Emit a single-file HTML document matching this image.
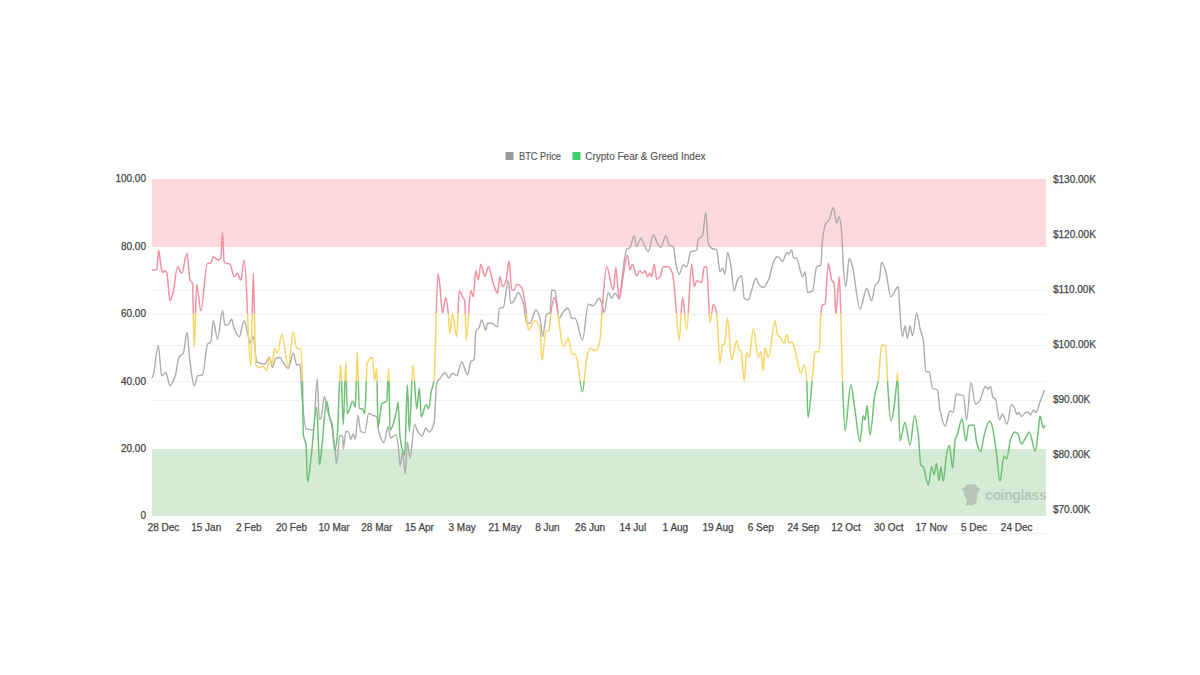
<!DOCTYPE html>
<html><head><meta charset="utf-8"><style>
html,body{margin:0;padding:0;background:#fff;width:1200px;height:675px;overflow:hidden}
svg{display:block}
text{font-family:"Liberation Sans",sans-serif;font-size:10px;fill:#444;stroke:#444;stroke-width:0.25px}
</style></head><body>
<svg width="1200" height="675" viewBox="0 0 1200 675">
<rect x="152" y="179" width="894" height="68" fill="#fdd9dd"/><rect x="152" y="449" width="894" height="67" fill="#d6ebd6"/><line x1="152" x2="1046" y1="290.5" y2="290.5" stroke="#f1f1f1" stroke-width="1"/><line x1="152" x2="1046" y1="314.5" y2="314.5" stroke="#f1f1f1" stroke-width="1"/><line x1="152" x2="1046" y1="345.5" y2="345.5" stroke="#f1f1f1" stroke-width="1"/><line x1="152" x2="1046" y1="381.5" y2="381.5" stroke="#f1f1f1" stroke-width="1"/><line x1="152" x2="1046" y1="400.5" y2="400.5" stroke="#f1f1f1" stroke-width="1"/>
<defs><filter id="soft" x="-5%" y="-5%" width="110%" height="110%"><feGaussianBlur stdDeviation="0.4"/></filter><clipPath id="cr"><rect x="0" y="0" width="1200" height="313.80"/></clipPath><clipPath id="cy"><rect x="0" y="313.80" width="1200" height="67.40"/></clipPath><clipPath id="cg"><rect x="0" y="381.20" width="1200" height="400"/></clipPath></defs><g><path d="M152.00,378.00C152.43,377.00 152.87,376.32 153.30,375.00C154.97,369.92 156.63,345.80 158.30,345.80C159.43,345.80 160.57,375.80 161.70,375.80C163.07,375.80 164.43,372.50 165.80,372.50C167.20,372.50 168.60,385.80 170.00,385.80C171.67,385.80 173.33,381.15 175.00,376.70C176.40,372.96 177.80,358.67 179.20,356.70C180.57,354.77 181.93,355.30 183.30,353.30C184.53,351.49 185.77,332.50 187.00,332.50C188.00,332.50 189.00,354.38 190.00,361.70C191.40,371.95 192.80,385.80 194.20,385.80C195.30,385.80 196.40,376.16 197.50,375.80C199.17,375.26 200.83,375.52 202.50,375.00C204.17,374.48 205.83,346.33 207.50,344.20C208.60,342.79 209.70,343.29 210.80,341.70C211.63,340.50 212.47,320.80 213.30,320.80C214.70,320.80 216.10,339.20 217.50,339.20C219.17,339.20 220.83,310.80 222.50,310.80C223.33,310.80 224.17,325.00 225.00,325.00C226.00,325.00 227.00,325.00 228.00,325.00C229.23,325.00 230.47,319.20 231.70,319.20C232.47,319.20 233.23,326.12 234.00,328.00C235.73,332.25 237.47,336.70 239.20,336.70C240.87,336.70 242.53,320.80 244.20,320.80C245.30,320.80 246.40,328.25 247.50,332.50C248.33,335.72 249.17,343.00 250.00,343.00C251.10,343.00 252.20,336.70 253.30,336.70C254.43,336.70 255.57,360.67 256.70,361.70C257.80,362.70 258.90,363.05 260.00,363.30C261.67,363.68 263.33,364.00 265.00,364.00C266.40,364.00 267.80,357.50 269.20,357.50C270.30,357.50 271.40,367.50 272.50,367.50C273.60,367.50 274.70,358.71 275.80,358.30C277.20,357.78 278.60,357.50 280.00,357.50C281.00,357.50 282.00,360.66 283.00,362.00C284.77,364.37 286.53,368.30 288.30,368.30C289.97,368.30 291.63,353.30 293.30,353.30C294.43,353.30 295.57,365.00 296.70,365.00C297.80,365.00 298.90,364.20 300.00,364.20C300.67,364.20 301.33,389.27 302.00,396.70C303.33,411.56 304.67,428.00 306.00,428.70C306.67,429.05 307.33,429.17 308.00,429.30C309.77,429.64 311.53,430.00 313.30,430.00C314.63,430.00 315.97,378.70 317.30,378.70C317.97,378.70 318.63,419.30 319.30,419.30C319.87,419.30 320.43,418.71 321.00,418.00C322.13,416.58 323.27,396.70 324.40,396.70C325.37,396.70 326.33,406.30 327.30,410.00C328.53,414.72 329.77,416.55 331.00,422.00C332.43,428.33 333.87,440.18 335.30,452.70C335.67,455.90 336.03,464.00 336.40,464.00C337.60,464.00 338.80,435.30 340.00,435.30C340.90,435.30 341.80,435.56 342.70,436.70C342.90,436.95 343.10,449.30 343.30,449.30C344.20,449.30 345.10,431.30 346.00,431.30C346.90,431.30 347.80,431.54 348.70,432.00C349.37,432.34 350.03,439.30 350.70,439.30C351.57,439.30 352.43,434.00 353.30,434.00C353.97,434.00 354.63,439.30 355.30,439.30C356.20,439.30 357.10,415.30 358.00,415.30C358.90,415.30 359.80,430.67 360.70,431.30C362.03,432.24 363.37,432.70 364.70,432.70C366.03,432.70 367.37,413.30 368.70,413.30C370.03,413.30 371.37,414.75 372.70,415.30C374.03,415.85 375.37,415.71 376.70,416.70C377.37,417.20 378.03,428.89 378.70,431.30C380.47,437.70 382.23,442.70 384.00,442.70C385.33,442.70 386.67,426.70 388.00,426.70C388.90,426.70 389.80,438.00 390.70,438.00C392.47,438.00 394.23,434.70 396.00,434.70C397.10,434.70 398.20,446.18 399.30,456.70C399.53,458.93 399.77,466.00 400.00,466.00C400.90,466.00 401.80,452.00 402.70,452.00C403.57,452.00 404.43,474.00 405.30,474.00C405.97,474.00 406.63,442.00 407.30,442.00C408.20,442.00 409.10,458.00 410.00,458.00C411.57,458.00 413.13,424.70 414.70,424.70C415.80,424.70 416.90,430.47 418.00,432.00C419.33,433.86 420.67,436.00 422.00,436.00C423.33,436.00 424.67,428.00 426.00,428.00C427.00,428.00 428.00,432.00 429.00,432.00C430.67,432.00 432.33,428.93 434.00,423.30C434.90,420.26 435.80,385.80 436.70,383.30C437.57,380.90 438.43,380.44 439.30,379.30C441.30,376.68 443.30,372.70 445.30,372.70C446.43,372.70 447.57,378.00 448.70,378.00C449.97,378.00 451.23,373.30 452.50,373.30C453.90,373.30 455.30,375.80 456.70,375.80C458.37,375.80 460.03,361.70 461.70,361.70C463.63,361.70 465.57,375.00 467.50,375.00C468.60,375.00 469.70,363.07 470.80,361.70C471.93,360.29 473.07,361.00 474.20,359.20C474.73,358.35 475.27,333.07 475.80,331.70C476.93,328.78 478.07,329.53 479.20,327.50C480.03,326.01 480.87,320.00 481.70,320.00C483.07,320.00 484.43,330.00 485.80,330.00C486.37,330.00 486.93,323.30 487.50,323.30C488.90,323.30 490.30,323.30 491.70,323.30C493.63,323.30 495.57,326.70 497.50,326.70C498.07,326.70 498.63,308.55 499.20,308.30C500.57,307.70 501.93,308.00 503.30,307.50C504.97,306.89 506.63,280.80 508.30,280.80C509.13,280.80 509.97,303.30 510.80,303.30C511.63,303.30 512.47,302.45 513.30,301.70C514.97,300.20 516.63,292.50 518.30,292.50C519.97,292.50 521.63,297.87 523.30,303.30C524.43,306.99 525.57,323.30 526.70,323.30C527.80,323.30 528.90,323.30 530.00,323.30C531.93,323.30 533.87,310.00 535.80,310.00C537.20,310.00 538.60,313.71 540.00,318.30C540.83,321.03 541.67,336.70 542.50,336.70C543.90,336.70 545.30,315.47 546.70,314.20C547.80,313.20 548.90,313.71 550.00,312.50C550.57,311.88 551.13,290.00 551.70,290.00C552.80,290.00 553.90,290.30 555.00,290.80C556.40,291.43 557.80,318.30 559.20,318.30C560.57,318.30 561.93,313.02 563.30,311.70C564.97,310.08 566.63,308.30 568.30,308.30C569.43,308.30 570.57,318.30 571.70,318.30C572.80,318.30 573.90,318.30 575.00,318.30C577.50,318.30 580.00,340.00 582.50,340.00C584.43,340.00 586.37,304.20 588.30,304.20C589.97,304.20 591.63,305.80 593.30,305.80C595.27,305.80 597.23,298.30 599.20,298.30C600.03,298.30 600.87,301.14 601.70,303.30C602.53,305.46 603.37,312.50 604.20,312.50C605.57,312.50 606.93,292.50 608.30,292.50C609.43,292.50 610.57,298.30 611.70,298.30C612.80,298.30 613.90,293.30 615.00,293.30C616.40,293.30 617.80,298.30 619.20,298.30C620.30,298.30 621.40,281.44 622.50,274.20C623.90,264.98 625.30,250.48 626.70,249.20C627.80,248.19 628.90,248.43 630.00,247.50C631.40,246.32 632.80,235.80 634.20,235.80C635.03,235.80 635.87,246.70 636.70,246.70C638.07,246.70 639.43,238.30 640.80,238.30C641.93,238.30 643.07,242.97 644.20,245.00C645.57,247.45 646.93,251.70 648.30,251.70C649.97,251.70 651.63,235.00 653.30,235.00C654.70,235.00 656.10,241.15 657.50,243.30C658.60,244.99 659.70,247.50 660.80,247.50C662.47,247.50 664.13,235.80 665.80,235.80C666.93,235.80 668.07,244.17 669.20,245.00C670.57,246.01 671.93,245.55 673.30,246.70C674.13,247.40 674.97,259.63 675.80,263.30C676.93,268.29 678.07,274.20 679.20,274.20C680.57,274.20 681.93,265.00 683.30,265.00C684.43,265.00 685.57,266.70 686.70,266.70C688.07,266.70 689.43,252.47 690.80,251.70C692.77,250.59 694.73,251.32 696.70,250.00C697.23,249.64 697.77,240.07 698.30,239.20C699.70,236.91 701.10,237.90 702.50,235.80C703.60,234.15 704.70,212.50 705.80,212.50C706.63,212.50 707.47,241.02 708.30,243.30C709.43,246.40 710.57,247.65 711.70,248.30C713.37,249.26 715.03,248.85 716.70,250.00C717.80,250.76 718.90,271.70 720.00,271.70C720.83,271.70 721.67,268.30 722.50,268.30C723.33,268.30 724.17,274.20 725.00,274.20C725.83,274.20 726.67,252.50 727.50,252.50C728.60,252.50 729.70,259.45 730.80,265.00C731.93,270.72 733.07,290.80 734.20,290.80C735.30,290.80 736.40,281.72 737.50,280.00C738.90,277.81 740.30,275.80 741.70,275.80C742.53,275.80 743.37,297.59 744.20,298.30C745.57,299.47 746.93,300.00 748.30,300.00C749.43,300.00 750.57,293.28 751.70,290.00C753.07,286.04 754.43,278.30 755.80,278.30C756.93,278.30 758.07,283.93 759.20,285.00C760.57,286.29 761.93,287.50 763.30,287.50C765.27,287.50 767.23,282.91 769.20,278.30C770.30,275.72 771.40,267.96 772.50,265.00C773.90,261.24 775.30,256.70 776.70,256.70C777.80,256.70 778.90,257.50 780.00,258.30C780.83,258.91 781.67,261.70 782.50,261.70C783.90,261.70 785.30,252.50 786.70,252.50C787.47,252.50 788.23,254.00 789.00,254.00C789.90,254.00 790.80,250.00 791.70,250.00C792.23,250.00 792.77,257.23 793.30,257.50C794.43,258.07 795.57,257.84 796.70,258.30C798.63,259.09 800.57,276.70 802.50,276.70C803.33,276.70 804.17,271.70 805.00,271.70C805.83,271.70 806.67,292.50 807.50,292.50C809.17,292.50 810.83,291.90 812.50,290.80C813.90,289.88 815.30,267.78 816.70,266.70C818.07,265.65 819.43,266.27 820.80,265.00C821.37,264.47 821.93,244.50 822.50,240.00C823.60,231.26 824.70,225.10 825.80,223.30C826.93,221.45 828.07,221.64 829.20,220.00C830.57,218.02 831.93,207.50 833.30,207.50C834.43,207.50 835.57,223.30 836.70,223.30C837.53,223.30 838.37,216.70 839.20,216.70C840.03,216.70 840.87,224.57 841.70,233.30C842.23,238.88 842.77,260.32 843.30,266.70C844.13,276.66 844.97,286.70 845.80,286.70C846.93,286.70 848.07,258.30 849.20,258.30C850.30,258.30 851.40,263.02 852.50,266.70C855.00,275.07 857.50,309.20 860.00,309.20C862.23,309.20 864.47,288.30 866.70,288.30C868.37,288.30 870.03,300.80 871.70,300.80C872.80,300.80 873.90,288.18 875.00,285.80C876.40,282.77 877.80,283.42 879.20,280.00C880.03,277.96 880.87,262.50 881.70,262.50C883.07,262.50 884.43,267.52 885.80,271.70C887.47,276.80 889.13,296.70 890.80,296.70C893.30,296.70 895.80,286.70 898.30,286.70C898.87,286.70 899.43,306.55 900.00,313.30C900.83,323.22 901.67,336.70 902.50,336.70C903.33,336.70 904.17,325.80 905.00,325.80C905.83,325.80 906.67,338.30 907.50,338.30C908.33,338.30 909.17,325.80 910.00,325.80C910.83,325.80 911.67,335.80 912.50,335.80C913.90,335.80 915.30,313.30 916.70,313.30C917.80,313.30 918.90,323.92 920.00,328.30C921.10,332.68 922.20,333.74 923.30,340.00C924.13,344.74 924.97,371.70 925.80,371.70C926.93,371.70 928.07,371.70 929.20,371.70C930.30,371.70 931.40,387.55 932.50,388.30C934.17,389.43 935.83,388.79 937.50,390.00C938.33,390.61 939.17,406.00 940.00,410.00C941.67,418.00 943.33,426.00 945.00,426.00C946.67,426.00 948.33,411.00 950.00,411.00C951.00,411.00 952.00,412.50 953.00,412.50C954.17,412.50 955.33,394.00 956.50,394.00C957.67,394.00 958.83,394.78 960.00,395.00C961.17,395.22 962.33,395.16 963.50,395.50C964.50,395.79 965.50,420.00 966.50,420.00C968.00,420.00 969.50,382.50 971.00,382.50C972.50,382.50 974.00,404.00 975.50,404.00C976.67,404.00 977.83,403.01 979.00,402.00C981.17,400.12 983.33,386.50 985.50,386.50C986.33,386.50 987.17,389.00 988.00,389.00C988.83,389.00 989.67,386.50 990.50,386.50C991.33,386.50 992.17,396.62 993.00,397.50C993.83,398.38 994.67,398.15 995.50,399.00C996.83,400.35 998.17,420.00 999.50,420.00C1000.50,420.00 1001.50,414.00 1002.50,414.00C1004.00,414.00 1005.50,424.00 1007.00,424.00C1008.50,424.00 1010.00,404.50 1011.50,404.50C1012.50,404.50 1013.50,406.37 1014.50,408.00C1015.33,409.36 1016.17,414.50 1017.00,414.50C1017.67,414.50 1018.33,412.50 1019.00,412.50C1019.83,412.50 1020.67,416.50 1021.50,416.50C1022.67,416.50 1023.83,413.58 1025.00,413.00C1026.00,412.51 1027.00,412.00 1028.00,412.00C1028.83,412.00 1029.67,415.00 1030.50,415.00C1031.50,415.00 1032.50,410.00 1033.50,410.00C1034.33,410.00 1035.17,412.50 1036.00,412.50C1037.33,412.50 1038.67,405.53 1040.00,402.00C1041.50,398.03 1043.00,394.00 1044.50,390.00" fill="none" stroke="#acacac" stroke-width="1.4"/><path d="M152.00,270.00C152.57,270.00 153.13,270.00 153.70,270.00C154.70,270.00 155.70,269.75 156.70,269.20C157.37,268.83 158.03,250.00 158.70,250.00C159.40,250.00 160.10,261.21 160.80,265.00C161.37,268.07 161.93,272.50 162.50,272.50C163.33,272.50 164.17,270.80 165.00,270.80C165.57,270.80 166.13,271.56 166.70,272.50C167.80,274.32 168.90,300.80 170.00,300.80C171.10,300.80 172.20,295.79 173.30,291.70C174.70,286.50 176.10,266.70 177.50,266.70C178.90,266.70 180.30,273.30 181.70,273.30C183.47,273.30 185.23,253.30 187.00,253.30C188.00,253.30 189.00,277.75 190.00,280.00C190.83,281.87 191.67,281.04 192.50,283.30C193.07,284.84 193.63,347.50 194.20,347.50C195.03,347.50 195.87,284.20 196.70,284.20C198.07,284.20 199.43,310.80 200.80,310.80C203.03,310.80 205.27,263.30 207.50,263.30C208.60,263.30 209.70,263.30 210.80,263.30C211.63,263.30 212.47,256.70 213.30,256.70C214.97,256.70 216.63,260.00 218.30,260.00C219.13,260.00 219.97,259.45 220.80,258.30C221.37,257.52 221.93,232.50 222.50,232.50C223.07,232.50 223.63,262.10 224.20,262.50C226.13,263.85 228.07,263.12 230.00,264.20C231.40,264.98 232.80,276.70 234.20,276.70C235.30,276.70 236.40,273.30 237.50,273.30C238.60,273.30 239.70,280.00 240.80,280.00C241.93,280.00 243.07,260.00 244.20,260.00C246.40,260.00 248.60,366.70 250.80,366.70C251.63,366.70 252.47,273.30 253.30,273.30C254.13,273.30 254.97,363.94 255.80,365.00C257.20,366.79 258.60,367.50 260.00,367.50C261.00,367.50 262.00,366.00 263.00,366.00C264.23,366.00 265.47,370.80 266.70,370.80C267.80,370.80 268.90,356.70 270.00,356.70C270.67,356.70 271.33,365.00 272.00,365.00C272.90,365.00 273.80,348.30 274.70,348.30C275.63,348.30 276.57,353.30 277.50,353.30C278.90,353.30 280.30,334.20 281.70,334.20C283.90,334.20 286.10,366.70 288.30,366.70C289.97,366.70 291.63,331.70 293.30,331.70C294.43,331.70 295.57,347.81 296.70,348.30C298.07,348.89 299.43,348.51 300.80,349.20C301.37,349.48 301.93,363.76 302.50,381.70C302.77,390.14 303.03,431.63 303.30,434.00C304.20,442.01 305.10,438.21 306.00,444.70C306.53,448.55 307.07,482.00 307.60,482.00C308.83,482.00 310.07,464.80 311.30,455.00C313.10,440.70 314.90,407.30 316.70,407.30C317.37,407.30 318.03,437.71 318.70,450.00C319.00,455.53 319.30,465.00 319.60,465.00C320.40,465.00 321.20,451.99 322.00,445.00C323.57,431.31 325.13,401.30 326.70,401.30C327.80,401.30 328.90,416.20 330.00,419.30C330.67,421.18 331.33,421.15 332.00,423.30C332.90,426.20 333.80,450.00 334.70,450.00C335.47,450.00 336.23,445.26 337.00,440.00C338.20,431.76 339.40,365.00 340.60,365.00C341.50,365.00 342.40,424.70 343.30,424.70C344.13,424.70 344.97,361.70 345.80,361.70C346.30,361.70 346.80,414.00 347.30,414.00C349.10,414.00 350.90,401.30 352.70,401.30C353.57,401.30 354.43,407.30 355.30,407.30C355.97,407.30 356.63,352.00 357.30,352.00C357.97,352.00 358.63,408.70 359.30,408.70C360.43,408.70 361.57,408.70 362.70,408.70C363.37,408.70 364.03,414.00 364.70,414.00C365.57,414.00 366.43,364.53 367.30,362.70C369.03,359.03 370.77,357.50 372.50,357.50C373.20,357.50 373.90,380.30 374.60,380.30C375.30,380.30 376.00,367.90 376.70,367.90C377.13,367.90 377.57,427.30 378.00,427.30C379.33,427.30 380.67,404.38 382.00,403.30C383.57,402.03 385.13,402.79 386.70,401.30C387.37,400.67 388.03,367.90 388.70,367.90C389.13,367.90 389.57,430.00 390.00,430.00C392.23,430.00 394.47,419.74 396.70,410.00C397.13,408.11 397.57,402.00 398.00,402.00C398.67,402.00 399.33,432.07 400.00,436.70C401.57,447.59 403.13,455.00 404.70,455.00C405.57,455.00 406.43,384.70 407.30,384.70C407.97,384.70 408.63,431.30 409.30,431.30C410.53,431.30 411.77,365.00 413.00,365.00C414.23,365.00 415.47,408.70 416.70,408.70C417.57,408.70 418.43,388.00 419.30,388.00C419.97,388.00 420.63,416.70 421.30,416.70C422.87,416.70 424.43,404.70 426.00,404.70C426.90,404.70 427.80,408.70 428.70,408.70C429.57,408.70 430.43,395.60 431.30,391.30C432.20,386.84 433.10,386.61 434.00,380.70C435.30,372.16 436.60,273.50 437.90,273.50C438.60,273.50 439.30,281.21 440.00,286.70C440.83,293.24 441.67,313.30 442.50,313.30C443.60,313.30 444.70,297.50 445.80,297.50C446.63,297.50 447.47,305.72 448.30,313.30C448.77,317.54 449.23,333.30 449.70,333.30C450.63,333.30 451.57,314.20 452.50,314.20C453.90,314.20 455.30,336.70 456.70,336.70C457.53,336.70 458.37,290.80 459.20,290.80C460.30,290.80 461.40,294.69 462.50,296.70C463.23,298.04 463.97,298.14 464.70,300.80C465.23,302.73 465.77,340.00 466.30,340.00C467.80,340.00 469.30,290.80 470.80,290.80C471.63,290.80 472.47,296.70 473.30,296.70C474.13,296.70 474.97,270.80 475.80,270.80C476.63,270.80 477.47,280.00 478.30,280.00C479.13,280.00 479.97,264.20 480.80,264.20C482.20,264.20 483.60,276.70 485.00,276.70C486.10,276.70 487.20,266.70 488.30,266.70C489.97,266.70 491.63,278.70 493.30,283.30C494.70,287.16 496.10,293.30 497.50,293.30C498.33,293.30 499.17,276.70 500.00,276.70C500.83,276.70 501.67,286.70 502.50,286.70C503.60,286.70 504.70,284.37 505.80,281.70C506.93,278.95 508.07,260.80 509.20,260.80C510.03,260.80 510.87,290.00 511.70,290.00C512.53,290.00 513.37,290.00 514.20,290.00C515.03,290.00 515.87,284.20 516.70,284.20C518.37,284.20 520.03,285.54 521.70,287.50C523.37,289.46 525.03,302.90 526.70,315.00C527.23,318.87 527.77,330.00 528.30,330.00C530.53,330.00 532.77,320.80 535.00,320.80C536.67,320.80 538.33,323.12 540.00,328.30C540.67,330.37 541.33,360.00 542.00,360.00C543.27,360.00 544.53,332.87 545.80,331.70C546.93,330.65 548.07,331.21 549.20,330.00C549.73,329.43 550.27,316.90 550.80,313.30C551.93,305.66 553.07,297.50 554.20,297.50C555.03,297.50 555.87,301.45 556.70,305.00C557.53,308.55 558.37,317.90 559.20,323.30C560.57,332.15 561.93,346.70 563.30,346.70C564.97,346.70 566.63,338.30 568.30,338.30C569.43,338.30 570.57,352.42 571.70,353.30C573.07,354.36 574.43,354.01 575.80,355.00C578.03,356.61 580.27,391.70 582.50,391.70C583.90,391.70 585.30,364.34 586.70,358.30C587.80,353.56 588.90,348.30 590.00,348.30C591.93,348.30 593.87,350.80 595.80,350.80C597.20,350.80 598.60,347.02 600.00,340.00C600.27,338.66 600.53,333.57 600.80,330.00C601.37,322.42 601.93,311.60 602.50,305.00C603.90,288.70 605.30,266.70 606.70,266.70C608.90,266.70 611.10,290.00 613.30,290.00C614.13,290.00 614.97,267.50 615.80,267.50C616.93,267.50 618.07,299.20 619.20,299.20C620.57,299.20 621.93,282.21 623.30,275.00C624.70,267.62 626.10,255.00 627.50,255.00C628.33,255.00 629.17,270.00 630.00,270.00C630.83,270.00 631.67,264.20 632.50,264.20C633.90,264.20 635.30,275.80 636.70,275.80C637.80,275.80 638.90,270.80 640.00,270.80C640.83,270.80 641.67,273.30 642.50,273.30C643.33,273.30 644.17,270.80 645.00,270.80C645.83,270.80 646.67,276.70 647.50,276.70C648.33,276.70 649.17,273.30 650.00,273.30C650.57,273.30 651.13,276.70 651.70,276.70C652.53,276.70 653.37,264.20 654.20,264.20C655.03,264.20 655.87,279.20 656.70,279.20C657.80,279.20 658.90,278.03 660.00,276.70C661.10,275.37 662.20,266.70 663.30,266.70C664.97,266.70 666.63,266.70 668.30,266.70C669.70,266.70 671.10,269.34 672.50,273.30C673.33,275.66 674.17,287.08 675.00,295.00C676.40,308.31 677.80,340.00 679.20,340.00C680.30,340.00 681.40,297.50 682.50,297.50C683.90,297.50 685.30,330.00 686.70,330.00C688.37,330.00 690.03,264.20 691.70,264.20C692.53,264.20 693.37,286.70 694.20,286.70C695.03,286.70 695.87,280.80 696.70,280.80C698.37,280.80 700.03,282.50 701.70,282.50C702.53,282.50 703.37,266.70 704.20,266.70C705.03,266.70 705.87,266.70 706.70,266.70C707.80,266.70 708.90,323.30 710.00,323.30C711.10,323.30 712.20,304.20 713.30,304.20C714.43,304.20 715.57,308.13 716.70,313.30C717.80,318.32 718.90,363.30 720.00,363.30C720.83,363.30 721.67,345.76 722.50,345.00C723.17,344.40 723.83,344.59 724.50,344.00C725.50,343.11 726.50,318.30 727.50,318.30C728.90,318.30 730.30,360.00 731.70,360.00C733.37,360.00 735.03,340.80 736.70,340.80C737.53,340.80 738.37,349.23 739.20,350.00C739.80,350.56 740.40,350.42 741.00,351.00C742.07,352.03 743.13,380.80 744.20,380.80C745.03,380.80 745.87,352.50 746.70,352.50C747.53,352.50 748.37,357.50 749.20,357.50C750.57,357.50 751.93,328.30 753.30,328.30C754.97,328.30 756.63,357.50 758.30,357.50C759.13,357.50 759.97,351.70 760.80,351.70C761.63,351.70 762.47,370.80 763.30,370.80C763.87,370.80 764.43,347.50 765.00,347.50C766.10,347.50 767.20,357.50 768.30,357.50C770.53,357.50 772.77,320.80 775.00,320.80C775.83,320.80 776.67,333.83 777.50,335.00C778.33,336.17 779.17,336.15 780.00,337.00C781.40,338.42 782.80,343.30 784.20,343.30C785.03,343.30 785.87,334.20 786.70,334.20C787.53,334.20 788.37,343.30 789.20,343.30C790.03,343.30 790.87,341.70 791.70,341.70C792.80,341.70 793.90,346.35 795.00,350.00C795.83,352.76 796.67,358.33 797.50,361.70C798.60,366.15 799.70,373.30 800.80,373.30C801.93,373.30 803.07,365.00 804.20,365.00C805.03,365.00 805.87,371.11 806.70,380.00C807.13,384.62 807.57,417.50 808.00,417.50C809.50,417.50 811.00,391.03 812.50,376.70C813.33,368.74 814.17,351.70 815.00,351.70C816.40,351.70 817.80,351.70 819.20,351.70C819.73,351.70 820.27,320.02 820.80,315.00C821.37,309.66 821.93,305.36 822.50,305.00C823.33,304.46 824.17,304.70 825.00,304.20C826.10,303.54 827.20,263.30 828.30,263.30C829.43,263.30 830.57,277.71 831.70,280.00C832.53,281.68 833.37,281.10 834.20,283.30C834.73,284.71 835.27,315.00 835.80,315.00C836.93,315.00 838.07,276.70 839.20,276.70C839.73,276.70 840.27,297.79 840.80,313.30C841.37,329.78 841.93,366.41 842.50,381.70C843.33,404.19 844.17,430.80 845.00,430.80C846.93,430.80 848.87,385.00 850.80,385.00C852.20,385.00 853.60,401.41 855.00,410.00C856.67,420.22 858.33,441.70 860.00,441.70C861.10,441.70 862.20,415.80 863.30,415.80C863.87,415.80 864.43,420.00 865.00,420.00C865.67,420.00 866.33,405.80 867.00,405.80C868.00,405.80 869.00,435.00 870.00,435.00C871.67,435.00 873.33,401.77 875.00,393.30C876.10,387.71 877.20,386.91 878.30,380.80C879.43,374.50 880.57,345.00 881.70,345.00C883.07,345.00 884.43,345.19 885.80,345.80C886.37,346.05 886.93,371.91 887.50,380.80C888.60,398.06 889.70,420.80 890.80,420.80C892.77,420.80 894.73,402.01 896.70,383.30C896.97,380.76 897.23,372.50 897.50,372.50C898.33,372.50 899.17,440.80 900.00,440.80C901.67,440.80 903.33,422.50 905.00,422.50C906.67,422.50 908.33,445.00 910.00,445.00C911.57,445.00 913.13,415.80 914.70,415.80C915.90,415.80 917.10,425.93 918.30,435.00C919.13,441.30 919.97,463.93 920.80,465.00C921.63,466.07 922.47,465.81 923.30,466.70C924.97,468.48 926.63,485.00 928.30,485.00C929.43,485.00 930.57,466.70 931.70,466.70C932.53,466.70 933.37,475.00 934.20,475.00C934.90,475.00 935.60,463.30 936.30,463.30C937.27,463.30 938.23,480.80 939.20,480.80C939.73,480.80 940.27,466.70 940.80,466.70C941.63,466.70 942.47,481.30 943.30,481.30C944.43,481.30 945.57,458.28 946.70,453.30C947.57,449.49 948.43,445.30 949.30,445.30C950.43,445.30 951.57,468.00 952.70,468.00C953.57,468.00 954.43,441.56 955.30,438.70C955.97,436.50 956.63,436.32 957.30,434.70C958.87,430.89 960.43,418.70 962.00,418.70C963.33,418.70 964.67,441.30 966.00,441.30C966.90,441.30 967.80,425.30 968.70,425.30C970.47,425.30 972.23,425.30 974.00,425.30C974.90,425.30 975.80,439.70 976.70,442.70C978.03,447.14 979.37,451.30 980.70,451.30C981.80,451.30 982.90,439.89 984.00,436.00C985.77,429.75 987.53,421.30 989.30,421.30C989.97,421.30 990.63,422.27 991.30,423.30C992.87,425.73 994.43,439.00 996.00,449.30C997.33,458.06 998.67,481.30 1000.00,481.30C1001.33,481.30 1002.67,456.00 1004.00,456.00C1004.90,456.00 1005.80,458.70 1006.70,458.70C1008.03,458.70 1009.37,442.05 1010.70,438.70C1012.03,435.35 1013.37,432.00 1014.70,432.00C1015.80,432.00 1016.90,432.89 1018.00,434.00C1019.10,435.11 1020.20,444.00 1021.30,444.00C1023.10,444.00 1024.90,438.72 1026.70,436.00C1027.57,434.69 1028.43,432.00 1029.30,432.00C1031.30,432.00 1033.30,451.30 1035.30,451.30C1036.20,451.30 1037.10,440.12 1038.00,433.30C1038.67,428.25 1039.33,416.00 1040.00,416.00C1041.10,416.00 1042.20,428.00 1043.30,428.00C1043.97,428.00 1044.63,426.20 1045.30,425.30" fill="none" stroke="#f2919f" stroke-width="1.5" clip-path="url(#cr)"/><path d="M152.00,270.00C152.57,270.00 153.13,270.00 153.70,270.00C154.70,270.00 155.70,269.75 156.70,269.20C157.37,268.83 158.03,250.00 158.70,250.00C159.40,250.00 160.10,261.21 160.80,265.00C161.37,268.07 161.93,272.50 162.50,272.50C163.33,272.50 164.17,270.80 165.00,270.80C165.57,270.80 166.13,271.56 166.70,272.50C167.80,274.32 168.90,300.80 170.00,300.80C171.10,300.80 172.20,295.79 173.30,291.70C174.70,286.50 176.10,266.70 177.50,266.70C178.90,266.70 180.30,273.30 181.70,273.30C183.47,273.30 185.23,253.30 187.00,253.30C188.00,253.30 189.00,277.75 190.00,280.00C190.83,281.87 191.67,281.04 192.50,283.30C193.07,284.84 193.63,347.50 194.20,347.50C195.03,347.50 195.87,284.20 196.70,284.20C198.07,284.20 199.43,310.80 200.80,310.80C203.03,310.80 205.27,263.30 207.50,263.30C208.60,263.30 209.70,263.30 210.80,263.30C211.63,263.30 212.47,256.70 213.30,256.70C214.97,256.70 216.63,260.00 218.30,260.00C219.13,260.00 219.97,259.45 220.80,258.30C221.37,257.52 221.93,232.50 222.50,232.50C223.07,232.50 223.63,262.10 224.20,262.50C226.13,263.85 228.07,263.12 230.00,264.20C231.40,264.98 232.80,276.70 234.20,276.70C235.30,276.70 236.40,273.30 237.50,273.30C238.60,273.30 239.70,280.00 240.80,280.00C241.93,280.00 243.07,260.00 244.20,260.00C246.40,260.00 248.60,366.70 250.80,366.70C251.63,366.70 252.47,273.30 253.30,273.30C254.13,273.30 254.97,363.94 255.80,365.00C257.20,366.79 258.60,367.50 260.00,367.50C261.00,367.50 262.00,366.00 263.00,366.00C264.23,366.00 265.47,370.80 266.70,370.80C267.80,370.80 268.90,356.70 270.00,356.70C270.67,356.70 271.33,365.00 272.00,365.00C272.90,365.00 273.80,348.30 274.70,348.30C275.63,348.30 276.57,353.30 277.50,353.30C278.90,353.30 280.30,334.20 281.70,334.20C283.90,334.20 286.10,366.70 288.30,366.70C289.97,366.70 291.63,331.70 293.30,331.70C294.43,331.70 295.57,347.81 296.70,348.30C298.07,348.89 299.43,348.51 300.80,349.20C301.37,349.48 301.93,363.76 302.50,381.70C302.77,390.14 303.03,431.63 303.30,434.00C304.20,442.01 305.10,438.21 306.00,444.70C306.53,448.55 307.07,482.00 307.60,482.00C308.83,482.00 310.07,464.80 311.30,455.00C313.10,440.70 314.90,407.30 316.70,407.30C317.37,407.30 318.03,437.71 318.70,450.00C319.00,455.53 319.30,465.00 319.60,465.00C320.40,465.00 321.20,451.99 322.00,445.00C323.57,431.31 325.13,401.30 326.70,401.30C327.80,401.30 328.90,416.20 330.00,419.30C330.67,421.18 331.33,421.15 332.00,423.30C332.90,426.20 333.80,450.00 334.70,450.00C335.47,450.00 336.23,445.26 337.00,440.00C338.20,431.76 339.40,365.00 340.60,365.00C341.50,365.00 342.40,424.70 343.30,424.70C344.13,424.70 344.97,361.70 345.80,361.70C346.30,361.70 346.80,414.00 347.30,414.00C349.10,414.00 350.90,401.30 352.70,401.30C353.57,401.30 354.43,407.30 355.30,407.30C355.97,407.30 356.63,352.00 357.30,352.00C357.97,352.00 358.63,408.70 359.30,408.70C360.43,408.70 361.57,408.70 362.70,408.70C363.37,408.70 364.03,414.00 364.70,414.00C365.57,414.00 366.43,364.53 367.30,362.70C369.03,359.03 370.77,357.50 372.50,357.50C373.20,357.50 373.90,380.30 374.60,380.30C375.30,380.30 376.00,367.90 376.70,367.90C377.13,367.90 377.57,427.30 378.00,427.30C379.33,427.30 380.67,404.38 382.00,403.30C383.57,402.03 385.13,402.79 386.70,401.30C387.37,400.67 388.03,367.90 388.70,367.90C389.13,367.90 389.57,430.00 390.00,430.00C392.23,430.00 394.47,419.74 396.70,410.00C397.13,408.11 397.57,402.00 398.00,402.00C398.67,402.00 399.33,432.07 400.00,436.70C401.57,447.59 403.13,455.00 404.70,455.00C405.57,455.00 406.43,384.70 407.30,384.70C407.97,384.70 408.63,431.30 409.30,431.30C410.53,431.30 411.77,365.00 413.00,365.00C414.23,365.00 415.47,408.70 416.70,408.70C417.57,408.70 418.43,388.00 419.30,388.00C419.97,388.00 420.63,416.70 421.30,416.70C422.87,416.70 424.43,404.70 426.00,404.70C426.90,404.70 427.80,408.70 428.70,408.70C429.57,408.70 430.43,395.60 431.30,391.30C432.20,386.84 433.10,386.61 434.00,380.70C435.30,372.16 436.60,273.50 437.90,273.50C438.60,273.50 439.30,281.21 440.00,286.70C440.83,293.24 441.67,313.30 442.50,313.30C443.60,313.30 444.70,297.50 445.80,297.50C446.63,297.50 447.47,305.72 448.30,313.30C448.77,317.54 449.23,333.30 449.70,333.30C450.63,333.30 451.57,314.20 452.50,314.20C453.90,314.20 455.30,336.70 456.70,336.70C457.53,336.70 458.37,290.80 459.20,290.80C460.30,290.80 461.40,294.69 462.50,296.70C463.23,298.04 463.97,298.14 464.70,300.80C465.23,302.73 465.77,340.00 466.30,340.00C467.80,340.00 469.30,290.80 470.80,290.80C471.63,290.80 472.47,296.70 473.30,296.70C474.13,296.70 474.97,270.80 475.80,270.80C476.63,270.80 477.47,280.00 478.30,280.00C479.13,280.00 479.97,264.20 480.80,264.20C482.20,264.20 483.60,276.70 485.00,276.70C486.10,276.70 487.20,266.70 488.30,266.70C489.97,266.70 491.63,278.70 493.30,283.30C494.70,287.16 496.10,293.30 497.50,293.30C498.33,293.30 499.17,276.70 500.00,276.70C500.83,276.70 501.67,286.70 502.50,286.70C503.60,286.70 504.70,284.37 505.80,281.70C506.93,278.95 508.07,260.80 509.20,260.80C510.03,260.80 510.87,290.00 511.70,290.00C512.53,290.00 513.37,290.00 514.20,290.00C515.03,290.00 515.87,284.20 516.70,284.20C518.37,284.20 520.03,285.54 521.70,287.50C523.37,289.46 525.03,302.90 526.70,315.00C527.23,318.87 527.77,330.00 528.30,330.00C530.53,330.00 532.77,320.80 535.00,320.80C536.67,320.80 538.33,323.12 540.00,328.30C540.67,330.37 541.33,360.00 542.00,360.00C543.27,360.00 544.53,332.87 545.80,331.70C546.93,330.65 548.07,331.21 549.20,330.00C549.73,329.43 550.27,316.90 550.80,313.30C551.93,305.66 553.07,297.50 554.20,297.50C555.03,297.50 555.87,301.45 556.70,305.00C557.53,308.55 558.37,317.90 559.20,323.30C560.57,332.15 561.93,346.70 563.30,346.70C564.97,346.70 566.63,338.30 568.30,338.30C569.43,338.30 570.57,352.42 571.70,353.30C573.07,354.36 574.43,354.01 575.80,355.00C578.03,356.61 580.27,391.70 582.50,391.70C583.90,391.70 585.30,364.34 586.70,358.30C587.80,353.56 588.90,348.30 590.00,348.30C591.93,348.30 593.87,350.80 595.80,350.80C597.20,350.80 598.60,347.02 600.00,340.00C600.27,338.66 600.53,333.57 600.80,330.00C601.37,322.42 601.93,311.60 602.50,305.00C603.90,288.70 605.30,266.70 606.70,266.70C608.90,266.70 611.10,290.00 613.30,290.00C614.13,290.00 614.97,267.50 615.80,267.50C616.93,267.50 618.07,299.20 619.20,299.20C620.57,299.20 621.93,282.21 623.30,275.00C624.70,267.62 626.10,255.00 627.50,255.00C628.33,255.00 629.17,270.00 630.00,270.00C630.83,270.00 631.67,264.20 632.50,264.20C633.90,264.20 635.30,275.80 636.70,275.80C637.80,275.80 638.90,270.80 640.00,270.80C640.83,270.80 641.67,273.30 642.50,273.30C643.33,273.30 644.17,270.80 645.00,270.80C645.83,270.80 646.67,276.70 647.50,276.70C648.33,276.70 649.17,273.30 650.00,273.30C650.57,273.30 651.13,276.70 651.70,276.70C652.53,276.70 653.37,264.20 654.20,264.20C655.03,264.20 655.87,279.20 656.70,279.20C657.80,279.20 658.90,278.03 660.00,276.70C661.10,275.37 662.20,266.70 663.30,266.70C664.97,266.70 666.63,266.70 668.30,266.70C669.70,266.70 671.10,269.34 672.50,273.30C673.33,275.66 674.17,287.08 675.00,295.00C676.40,308.31 677.80,340.00 679.20,340.00C680.30,340.00 681.40,297.50 682.50,297.50C683.90,297.50 685.30,330.00 686.70,330.00C688.37,330.00 690.03,264.20 691.70,264.20C692.53,264.20 693.37,286.70 694.20,286.70C695.03,286.70 695.87,280.80 696.70,280.80C698.37,280.80 700.03,282.50 701.70,282.50C702.53,282.50 703.37,266.70 704.20,266.70C705.03,266.70 705.87,266.70 706.70,266.70C707.80,266.70 708.90,323.30 710.00,323.30C711.10,323.30 712.20,304.20 713.30,304.20C714.43,304.20 715.57,308.13 716.70,313.30C717.80,318.32 718.90,363.30 720.00,363.30C720.83,363.30 721.67,345.76 722.50,345.00C723.17,344.40 723.83,344.59 724.50,344.00C725.50,343.11 726.50,318.30 727.50,318.30C728.90,318.30 730.30,360.00 731.70,360.00C733.37,360.00 735.03,340.80 736.70,340.80C737.53,340.80 738.37,349.23 739.20,350.00C739.80,350.56 740.40,350.42 741.00,351.00C742.07,352.03 743.13,380.80 744.20,380.80C745.03,380.80 745.87,352.50 746.70,352.50C747.53,352.50 748.37,357.50 749.20,357.50C750.57,357.50 751.93,328.30 753.30,328.30C754.97,328.30 756.63,357.50 758.30,357.50C759.13,357.50 759.97,351.70 760.80,351.70C761.63,351.70 762.47,370.80 763.30,370.80C763.87,370.80 764.43,347.50 765.00,347.50C766.10,347.50 767.20,357.50 768.30,357.50C770.53,357.50 772.77,320.80 775.00,320.80C775.83,320.80 776.67,333.83 777.50,335.00C778.33,336.17 779.17,336.15 780.00,337.00C781.40,338.42 782.80,343.30 784.20,343.30C785.03,343.30 785.87,334.20 786.70,334.20C787.53,334.20 788.37,343.30 789.20,343.30C790.03,343.30 790.87,341.70 791.70,341.70C792.80,341.70 793.90,346.35 795.00,350.00C795.83,352.76 796.67,358.33 797.50,361.70C798.60,366.15 799.70,373.30 800.80,373.30C801.93,373.30 803.07,365.00 804.20,365.00C805.03,365.00 805.87,371.11 806.70,380.00C807.13,384.62 807.57,417.50 808.00,417.50C809.50,417.50 811.00,391.03 812.50,376.70C813.33,368.74 814.17,351.70 815.00,351.70C816.40,351.70 817.80,351.70 819.20,351.70C819.73,351.70 820.27,320.02 820.80,315.00C821.37,309.66 821.93,305.36 822.50,305.00C823.33,304.46 824.17,304.70 825.00,304.20C826.10,303.54 827.20,263.30 828.30,263.30C829.43,263.30 830.57,277.71 831.70,280.00C832.53,281.68 833.37,281.10 834.20,283.30C834.73,284.71 835.27,315.00 835.80,315.00C836.93,315.00 838.07,276.70 839.20,276.70C839.73,276.70 840.27,297.79 840.80,313.30C841.37,329.78 841.93,366.41 842.50,381.70C843.33,404.19 844.17,430.80 845.00,430.80C846.93,430.80 848.87,385.00 850.80,385.00C852.20,385.00 853.60,401.41 855.00,410.00C856.67,420.22 858.33,441.70 860.00,441.70C861.10,441.70 862.20,415.80 863.30,415.80C863.87,415.80 864.43,420.00 865.00,420.00C865.67,420.00 866.33,405.80 867.00,405.80C868.00,405.80 869.00,435.00 870.00,435.00C871.67,435.00 873.33,401.77 875.00,393.30C876.10,387.71 877.20,386.91 878.30,380.80C879.43,374.50 880.57,345.00 881.70,345.00C883.07,345.00 884.43,345.19 885.80,345.80C886.37,346.05 886.93,371.91 887.50,380.80C888.60,398.06 889.70,420.80 890.80,420.80C892.77,420.80 894.73,402.01 896.70,383.30C896.97,380.76 897.23,372.50 897.50,372.50C898.33,372.50 899.17,440.80 900.00,440.80C901.67,440.80 903.33,422.50 905.00,422.50C906.67,422.50 908.33,445.00 910.00,445.00C911.57,445.00 913.13,415.80 914.70,415.80C915.90,415.80 917.10,425.93 918.30,435.00C919.13,441.30 919.97,463.93 920.80,465.00C921.63,466.07 922.47,465.81 923.30,466.70C924.97,468.48 926.63,485.00 928.30,485.00C929.43,485.00 930.57,466.70 931.70,466.70C932.53,466.70 933.37,475.00 934.20,475.00C934.90,475.00 935.60,463.30 936.30,463.30C937.27,463.30 938.23,480.80 939.20,480.80C939.73,480.80 940.27,466.70 940.80,466.70C941.63,466.70 942.47,481.30 943.30,481.30C944.43,481.30 945.57,458.28 946.70,453.30C947.57,449.49 948.43,445.30 949.30,445.30C950.43,445.30 951.57,468.00 952.70,468.00C953.57,468.00 954.43,441.56 955.30,438.70C955.97,436.50 956.63,436.32 957.30,434.70C958.87,430.89 960.43,418.70 962.00,418.70C963.33,418.70 964.67,441.30 966.00,441.30C966.90,441.30 967.80,425.30 968.70,425.30C970.47,425.30 972.23,425.30 974.00,425.30C974.90,425.30 975.80,439.70 976.70,442.70C978.03,447.14 979.37,451.30 980.70,451.30C981.80,451.30 982.90,439.89 984.00,436.00C985.77,429.75 987.53,421.30 989.30,421.30C989.97,421.30 990.63,422.27 991.30,423.30C992.87,425.73 994.43,439.00 996.00,449.30C997.33,458.06 998.67,481.30 1000.00,481.30C1001.33,481.30 1002.67,456.00 1004.00,456.00C1004.90,456.00 1005.80,458.70 1006.70,458.70C1008.03,458.70 1009.37,442.05 1010.70,438.70C1012.03,435.35 1013.37,432.00 1014.70,432.00C1015.80,432.00 1016.90,432.89 1018.00,434.00C1019.10,435.11 1020.20,444.00 1021.30,444.00C1023.10,444.00 1024.90,438.72 1026.70,436.00C1027.57,434.69 1028.43,432.00 1029.30,432.00C1031.30,432.00 1033.30,451.30 1035.30,451.30C1036.20,451.30 1037.10,440.12 1038.00,433.30C1038.67,428.25 1039.33,416.00 1040.00,416.00C1041.10,416.00 1042.20,428.00 1043.30,428.00C1043.97,428.00 1044.63,426.20 1045.30,425.30" fill="none" stroke="#f7d666" stroke-width="1.5" clip-path="url(#cy)"/><path d="M152.00,270.00C152.57,270.00 153.13,270.00 153.70,270.00C154.70,270.00 155.70,269.75 156.70,269.20C157.37,268.83 158.03,250.00 158.70,250.00C159.40,250.00 160.10,261.21 160.80,265.00C161.37,268.07 161.93,272.50 162.50,272.50C163.33,272.50 164.17,270.80 165.00,270.80C165.57,270.80 166.13,271.56 166.70,272.50C167.80,274.32 168.90,300.80 170.00,300.80C171.10,300.80 172.20,295.79 173.30,291.70C174.70,286.50 176.10,266.70 177.50,266.70C178.90,266.70 180.30,273.30 181.70,273.30C183.47,273.30 185.23,253.30 187.00,253.30C188.00,253.30 189.00,277.75 190.00,280.00C190.83,281.87 191.67,281.04 192.50,283.30C193.07,284.84 193.63,347.50 194.20,347.50C195.03,347.50 195.87,284.20 196.70,284.20C198.07,284.20 199.43,310.80 200.80,310.80C203.03,310.80 205.27,263.30 207.50,263.30C208.60,263.30 209.70,263.30 210.80,263.30C211.63,263.30 212.47,256.70 213.30,256.70C214.97,256.70 216.63,260.00 218.30,260.00C219.13,260.00 219.97,259.45 220.80,258.30C221.37,257.52 221.93,232.50 222.50,232.50C223.07,232.50 223.63,262.10 224.20,262.50C226.13,263.85 228.07,263.12 230.00,264.20C231.40,264.98 232.80,276.70 234.20,276.70C235.30,276.70 236.40,273.30 237.50,273.30C238.60,273.30 239.70,280.00 240.80,280.00C241.93,280.00 243.07,260.00 244.20,260.00C246.40,260.00 248.60,366.70 250.80,366.70C251.63,366.70 252.47,273.30 253.30,273.30C254.13,273.30 254.97,363.94 255.80,365.00C257.20,366.79 258.60,367.50 260.00,367.50C261.00,367.50 262.00,366.00 263.00,366.00C264.23,366.00 265.47,370.80 266.70,370.80C267.80,370.80 268.90,356.70 270.00,356.70C270.67,356.70 271.33,365.00 272.00,365.00C272.90,365.00 273.80,348.30 274.70,348.30C275.63,348.30 276.57,353.30 277.50,353.30C278.90,353.30 280.30,334.20 281.70,334.20C283.90,334.20 286.10,366.70 288.30,366.70C289.97,366.70 291.63,331.70 293.30,331.70C294.43,331.70 295.57,347.81 296.70,348.30C298.07,348.89 299.43,348.51 300.80,349.20C301.37,349.48 301.93,363.76 302.50,381.70C302.77,390.14 303.03,431.63 303.30,434.00C304.20,442.01 305.10,438.21 306.00,444.70C306.53,448.55 307.07,482.00 307.60,482.00C308.83,482.00 310.07,464.80 311.30,455.00C313.10,440.70 314.90,407.30 316.70,407.30C317.37,407.30 318.03,437.71 318.70,450.00C319.00,455.53 319.30,465.00 319.60,465.00C320.40,465.00 321.20,451.99 322.00,445.00C323.57,431.31 325.13,401.30 326.70,401.30C327.80,401.30 328.90,416.20 330.00,419.30C330.67,421.18 331.33,421.15 332.00,423.30C332.90,426.20 333.80,450.00 334.70,450.00C335.47,450.00 336.23,445.26 337.00,440.00C338.20,431.76 339.40,365.00 340.60,365.00C341.50,365.00 342.40,424.70 343.30,424.70C344.13,424.70 344.97,361.70 345.80,361.70C346.30,361.70 346.80,414.00 347.30,414.00C349.10,414.00 350.90,401.30 352.70,401.30C353.57,401.30 354.43,407.30 355.30,407.30C355.97,407.30 356.63,352.00 357.30,352.00C357.97,352.00 358.63,408.70 359.30,408.70C360.43,408.70 361.57,408.70 362.70,408.70C363.37,408.70 364.03,414.00 364.70,414.00C365.57,414.00 366.43,364.53 367.30,362.70C369.03,359.03 370.77,357.50 372.50,357.50C373.20,357.50 373.90,380.30 374.60,380.30C375.30,380.30 376.00,367.90 376.70,367.90C377.13,367.90 377.57,427.30 378.00,427.30C379.33,427.30 380.67,404.38 382.00,403.30C383.57,402.03 385.13,402.79 386.70,401.30C387.37,400.67 388.03,367.90 388.70,367.90C389.13,367.90 389.57,430.00 390.00,430.00C392.23,430.00 394.47,419.74 396.70,410.00C397.13,408.11 397.57,402.00 398.00,402.00C398.67,402.00 399.33,432.07 400.00,436.70C401.57,447.59 403.13,455.00 404.70,455.00C405.57,455.00 406.43,384.70 407.30,384.70C407.97,384.70 408.63,431.30 409.30,431.30C410.53,431.30 411.77,365.00 413.00,365.00C414.23,365.00 415.47,408.70 416.70,408.70C417.57,408.70 418.43,388.00 419.30,388.00C419.97,388.00 420.63,416.70 421.30,416.70C422.87,416.70 424.43,404.70 426.00,404.70C426.90,404.70 427.80,408.70 428.70,408.70C429.57,408.70 430.43,395.60 431.30,391.30C432.20,386.84 433.10,386.61 434.00,380.70C435.30,372.16 436.60,273.50 437.90,273.50C438.60,273.50 439.30,281.21 440.00,286.70C440.83,293.24 441.67,313.30 442.50,313.30C443.60,313.30 444.70,297.50 445.80,297.50C446.63,297.50 447.47,305.72 448.30,313.30C448.77,317.54 449.23,333.30 449.70,333.30C450.63,333.30 451.57,314.20 452.50,314.20C453.90,314.20 455.30,336.70 456.70,336.70C457.53,336.70 458.37,290.80 459.20,290.80C460.30,290.80 461.40,294.69 462.50,296.70C463.23,298.04 463.97,298.14 464.70,300.80C465.23,302.73 465.77,340.00 466.30,340.00C467.80,340.00 469.30,290.80 470.80,290.80C471.63,290.80 472.47,296.70 473.30,296.70C474.13,296.70 474.97,270.80 475.80,270.80C476.63,270.80 477.47,280.00 478.30,280.00C479.13,280.00 479.97,264.20 480.80,264.20C482.20,264.20 483.60,276.70 485.00,276.70C486.10,276.70 487.20,266.70 488.30,266.70C489.97,266.70 491.63,278.70 493.30,283.30C494.70,287.16 496.10,293.30 497.50,293.30C498.33,293.30 499.17,276.70 500.00,276.70C500.83,276.70 501.67,286.70 502.50,286.70C503.60,286.70 504.70,284.37 505.80,281.70C506.93,278.95 508.07,260.80 509.20,260.80C510.03,260.80 510.87,290.00 511.70,290.00C512.53,290.00 513.37,290.00 514.20,290.00C515.03,290.00 515.87,284.20 516.70,284.20C518.37,284.20 520.03,285.54 521.70,287.50C523.37,289.46 525.03,302.90 526.70,315.00C527.23,318.87 527.77,330.00 528.30,330.00C530.53,330.00 532.77,320.80 535.00,320.80C536.67,320.80 538.33,323.12 540.00,328.30C540.67,330.37 541.33,360.00 542.00,360.00C543.27,360.00 544.53,332.87 545.80,331.70C546.93,330.65 548.07,331.21 549.20,330.00C549.73,329.43 550.27,316.90 550.80,313.30C551.93,305.66 553.07,297.50 554.20,297.50C555.03,297.50 555.87,301.45 556.70,305.00C557.53,308.55 558.37,317.90 559.20,323.30C560.57,332.15 561.93,346.70 563.30,346.70C564.97,346.70 566.63,338.30 568.30,338.30C569.43,338.30 570.57,352.42 571.70,353.30C573.07,354.36 574.43,354.01 575.80,355.00C578.03,356.61 580.27,391.70 582.50,391.70C583.90,391.70 585.30,364.34 586.70,358.30C587.80,353.56 588.90,348.30 590.00,348.30C591.93,348.30 593.87,350.80 595.80,350.80C597.20,350.80 598.60,347.02 600.00,340.00C600.27,338.66 600.53,333.57 600.80,330.00C601.37,322.42 601.93,311.60 602.50,305.00C603.90,288.70 605.30,266.70 606.70,266.70C608.90,266.70 611.10,290.00 613.30,290.00C614.13,290.00 614.97,267.50 615.80,267.50C616.93,267.50 618.07,299.20 619.20,299.20C620.57,299.20 621.93,282.21 623.30,275.00C624.70,267.62 626.10,255.00 627.50,255.00C628.33,255.00 629.17,270.00 630.00,270.00C630.83,270.00 631.67,264.20 632.50,264.20C633.90,264.20 635.30,275.80 636.70,275.80C637.80,275.80 638.90,270.80 640.00,270.80C640.83,270.80 641.67,273.30 642.50,273.30C643.33,273.30 644.17,270.80 645.00,270.80C645.83,270.80 646.67,276.70 647.50,276.70C648.33,276.70 649.17,273.30 650.00,273.30C650.57,273.30 651.13,276.70 651.70,276.70C652.53,276.70 653.37,264.20 654.20,264.20C655.03,264.20 655.87,279.20 656.70,279.20C657.80,279.20 658.90,278.03 660.00,276.70C661.10,275.37 662.20,266.70 663.30,266.70C664.97,266.70 666.63,266.70 668.30,266.70C669.70,266.70 671.10,269.34 672.50,273.30C673.33,275.66 674.17,287.08 675.00,295.00C676.40,308.31 677.80,340.00 679.20,340.00C680.30,340.00 681.40,297.50 682.50,297.50C683.90,297.50 685.30,330.00 686.70,330.00C688.37,330.00 690.03,264.20 691.70,264.20C692.53,264.20 693.37,286.70 694.20,286.70C695.03,286.70 695.87,280.80 696.70,280.80C698.37,280.80 700.03,282.50 701.70,282.50C702.53,282.50 703.37,266.70 704.20,266.70C705.03,266.70 705.87,266.70 706.70,266.70C707.80,266.70 708.90,323.30 710.00,323.30C711.10,323.30 712.20,304.20 713.30,304.20C714.43,304.20 715.57,308.13 716.70,313.30C717.80,318.32 718.90,363.30 720.00,363.30C720.83,363.30 721.67,345.76 722.50,345.00C723.17,344.40 723.83,344.59 724.50,344.00C725.50,343.11 726.50,318.30 727.50,318.30C728.90,318.30 730.30,360.00 731.70,360.00C733.37,360.00 735.03,340.80 736.70,340.80C737.53,340.80 738.37,349.23 739.20,350.00C739.80,350.56 740.40,350.42 741.00,351.00C742.07,352.03 743.13,380.80 744.20,380.80C745.03,380.80 745.87,352.50 746.70,352.50C747.53,352.50 748.37,357.50 749.20,357.50C750.57,357.50 751.93,328.30 753.30,328.30C754.97,328.30 756.63,357.50 758.30,357.50C759.13,357.50 759.97,351.70 760.80,351.70C761.63,351.70 762.47,370.80 763.30,370.80C763.87,370.80 764.43,347.50 765.00,347.50C766.10,347.50 767.20,357.50 768.30,357.50C770.53,357.50 772.77,320.80 775.00,320.80C775.83,320.80 776.67,333.83 777.50,335.00C778.33,336.17 779.17,336.15 780.00,337.00C781.40,338.42 782.80,343.30 784.20,343.30C785.03,343.30 785.87,334.20 786.70,334.20C787.53,334.20 788.37,343.30 789.20,343.30C790.03,343.30 790.87,341.70 791.70,341.70C792.80,341.70 793.90,346.35 795.00,350.00C795.83,352.76 796.67,358.33 797.50,361.70C798.60,366.15 799.70,373.30 800.80,373.30C801.93,373.30 803.07,365.00 804.20,365.00C805.03,365.00 805.87,371.11 806.70,380.00C807.13,384.62 807.57,417.50 808.00,417.50C809.50,417.50 811.00,391.03 812.50,376.70C813.33,368.74 814.17,351.70 815.00,351.70C816.40,351.70 817.80,351.70 819.20,351.70C819.73,351.70 820.27,320.02 820.80,315.00C821.37,309.66 821.93,305.36 822.50,305.00C823.33,304.46 824.17,304.70 825.00,304.20C826.10,303.54 827.20,263.30 828.30,263.30C829.43,263.30 830.57,277.71 831.70,280.00C832.53,281.68 833.37,281.10 834.20,283.30C834.73,284.71 835.27,315.00 835.80,315.00C836.93,315.00 838.07,276.70 839.20,276.70C839.73,276.70 840.27,297.79 840.80,313.30C841.37,329.78 841.93,366.41 842.50,381.70C843.33,404.19 844.17,430.80 845.00,430.80C846.93,430.80 848.87,385.00 850.80,385.00C852.20,385.00 853.60,401.41 855.00,410.00C856.67,420.22 858.33,441.70 860.00,441.70C861.10,441.70 862.20,415.80 863.30,415.80C863.87,415.80 864.43,420.00 865.00,420.00C865.67,420.00 866.33,405.80 867.00,405.80C868.00,405.80 869.00,435.00 870.00,435.00C871.67,435.00 873.33,401.77 875.00,393.30C876.10,387.71 877.20,386.91 878.30,380.80C879.43,374.50 880.57,345.00 881.70,345.00C883.07,345.00 884.43,345.19 885.80,345.80C886.37,346.05 886.93,371.91 887.50,380.80C888.60,398.06 889.70,420.80 890.80,420.80C892.77,420.80 894.73,402.01 896.70,383.30C896.97,380.76 897.23,372.50 897.50,372.50C898.33,372.50 899.17,440.80 900.00,440.80C901.67,440.80 903.33,422.50 905.00,422.50C906.67,422.50 908.33,445.00 910.00,445.00C911.57,445.00 913.13,415.80 914.70,415.80C915.90,415.80 917.10,425.93 918.30,435.00C919.13,441.30 919.97,463.93 920.80,465.00C921.63,466.07 922.47,465.81 923.30,466.70C924.97,468.48 926.63,485.00 928.30,485.00C929.43,485.00 930.57,466.70 931.70,466.70C932.53,466.70 933.37,475.00 934.20,475.00C934.90,475.00 935.60,463.30 936.30,463.30C937.27,463.30 938.23,480.80 939.20,480.80C939.73,480.80 940.27,466.70 940.80,466.70C941.63,466.70 942.47,481.30 943.30,481.30C944.43,481.30 945.57,458.28 946.70,453.30C947.57,449.49 948.43,445.30 949.30,445.30C950.43,445.30 951.57,468.00 952.70,468.00C953.57,468.00 954.43,441.56 955.30,438.70C955.97,436.50 956.63,436.32 957.30,434.70C958.87,430.89 960.43,418.70 962.00,418.70C963.33,418.70 964.67,441.30 966.00,441.30C966.90,441.30 967.80,425.30 968.70,425.30C970.47,425.30 972.23,425.30 974.00,425.30C974.90,425.30 975.80,439.70 976.70,442.70C978.03,447.14 979.37,451.30 980.70,451.30C981.80,451.30 982.90,439.89 984.00,436.00C985.77,429.75 987.53,421.30 989.30,421.30C989.97,421.30 990.63,422.27 991.30,423.30C992.87,425.73 994.43,439.00 996.00,449.30C997.33,458.06 998.67,481.30 1000.00,481.30C1001.33,481.30 1002.67,456.00 1004.00,456.00C1004.90,456.00 1005.80,458.70 1006.70,458.70C1008.03,458.70 1009.37,442.05 1010.70,438.70C1012.03,435.35 1013.37,432.00 1014.70,432.00C1015.80,432.00 1016.90,432.89 1018.00,434.00C1019.10,435.11 1020.20,444.00 1021.30,444.00C1023.10,444.00 1024.90,438.72 1026.70,436.00C1027.57,434.69 1028.43,432.00 1029.30,432.00C1031.30,432.00 1033.30,451.30 1035.30,451.30C1036.20,451.30 1037.10,440.12 1038.00,433.30C1038.67,428.25 1039.33,416.00 1040.00,416.00C1041.10,416.00 1042.20,428.00 1043.30,428.00C1043.97,428.00 1044.63,426.20 1045.30,425.30" fill="none" stroke="#6dc074" stroke-width="1.5" clip-path="url(#cg)"/></g>
<g><text x="146" y="182.3" text-anchor="end">100.00</text><text x="146" y="249.7" text-anchor="end">80.00</text><text x="146" y="317.1" text-anchor="end">60.00</text><text x="146" y="384.5" text-anchor="end">40.00</text><text x="146" y="451.9" text-anchor="end">20.00</text><text x="146" y="519.3" text-anchor="end">0</text><text x="1053" y="182.5">$130.00K</text><text x="1053" y="237.6">$120.00K</text><text x="1053" y="292.6">$110.00K</text><text x="1053" y="347.6">$100.00K</text><text x="1053" y="402.7">$90.00K</text><text x="1053" y="457.8">$80.00K</text><text x="1053" y="512.8">$70.00K</text><text x="163.5" y="530.5" text-anchor="middle">28 Dec</text><text x="206.2" y="530.5" text-anchor="middle">15 Jan</text><text x="248.8" y="530.5" text-anchor="middle">2 Feb</text><text x="291.5" y="530.5" text-anchor="middle">20 Feb</text><text x="334.1" y="530.5" text-anchor="middle">10 Mar</text><text x="376.8" y="530.5" text-anchor="middle">28 Mar</text><text x="419.5" y="530.5" text-anchor="middle">15 Apr</text><text x="462.1" y="530.5" text-anchor="middle">3 May</text><text x="504.8" y="530.5" text-anchor="middle">21 May</text><text x="547.4" y="530.5" text-anchor="middle">8 Jun</text><text x="590.1" y="530.5" text-anchor="middle">26 Jun</text><text x="632.8" y="530.5" text-anchor="middle">14 Jul</text><text x="675.4" y="530.5" text-anchor="middle">1 Aug</text><text x="718.1" y="530.5" text-anchor="middle">19 Aug</text><text x="760.7" y="530.5" text-anchor="middle">6 Sep</text><text x="803.4" y="530.5" text-anchor="middle">24 Sep</text><text x="846.1" y="530.5" text-anchor="middle">12 Oct</text><text x="888.7" y="530.5" text-anchor="middle">30 Oct</text><text x="931.4" y="530.5" text-anchor="middle">17 Nov</text><text x="974.0" y="530.5" text-anchor="middle">5 Dec</text><text x="1016.7" y="530.5" text-anchor="middle">24 Dec</text></g>
<g fill="#b7c4b6"><path d="M966,484.5 L976,484.3 L977,487 L980,488.5 L979.5,491 L977.5,492.5 L977.5,497 L976.5,499 L976.5,503 L972.5,505.5 L968,505 L964.5,506 L967,503 L966.5,499 L965.5,497 L964,495.5 L964,491 L961.5,490 L963,487.8 L966,487 Z"/><text x="985" y="499.5" style="font-size:13.8px;font-weight:bold;fill:#b8c6b8;stroke:none;letter-spacing:-0.25px">coinglass</text></g>
<line x1="932" x2="1047" y1="533.5" y2="533.5" stroke="#eef0f3" stroke-width="1"/>
<rect x="505.5" y="152" width="8" height="8" fill="#9b9b9b"/>
<text x="519" y="159.6" style="fill:#555;stroke:#555;stroke-width:0.15px" textLength="42" lengthAdjust="spacingAndGlyphs">BTC Price</text>
<rect x="572.5" y="152" width="8" height="8" fill="#3fcd6f"/>
<text x="585.2" y="159.6" style="fill:#555;stroke:#555;stroke-width:0.15px" textLength="120.3" lengthAdjust="spacingAndGlyphs">Crypto Fear &amp; Greed Index</text>
</svg>
</body></html>
